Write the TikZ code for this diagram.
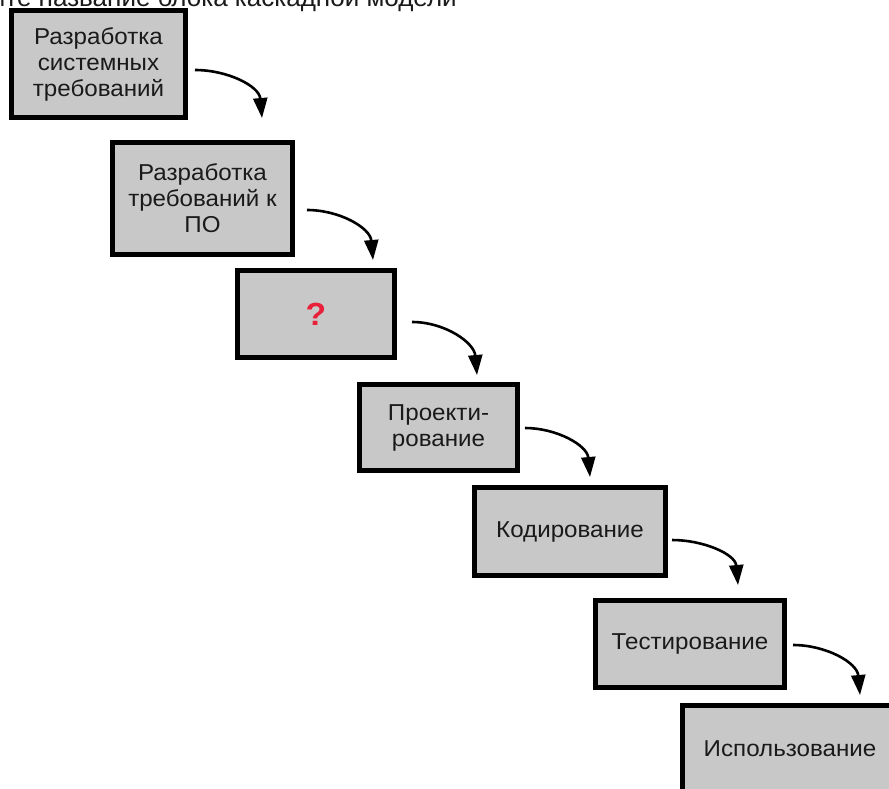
\documentclass[tikz,border=0pt]{standalone}
\usepackage{fontspec}
\setmainfont{Liberation Sans}
\newfontfamily\boxfont{Liberation Sans}[FakeStretch=1.05]
\usetikzlibrary{arrows.meta}
\definecolor{boxgray}{HTML}{C8C8C8}
\definecolor{txt}{HTML}{1A1A1A}
\definecolor{qred}{HTML}{E8203A}
\tikzset{
  stage/.style={draw=black, line width=5pt, fill=boxgray, align=center,
    inner sep=0pt, text=txt, font=\boxfont\fontsize{23}{26}\selectfont},
  flow/.style={line width=2.6pt, -{Triangle[length=20pt,width=14pt]}}
}
\begin{document}
\begin{tikzpicture}[x=1pt,y=-1pt]
\useasboundingbox (0,0) rectangle (889,788);
\fill[white] (0,0) rectangle (889,788);
% heading (cut off at the top)
\node[anchor=base east, inner sep=0pt, text=txt, font=\fontsize{26}{28}\selectfont] (head) at (457,6) {ите название блока каскадной модели};
% stages
\node[stage, minimum width=174pt, minimum height=107pt] (b1) at (98.5,64) {Разработка\\системных\\требований};
\node[stage, minimum width=180pt, minimum height=112pt] (b2) at (202.5,198.5) {Разработка\\требований к\\ПО};
\node[stage, minimum width=157pt, minimum height=87pt] (b3) at (316,314) {\textcolor{qred}{\bfseries\fontsize{32}{32}\selectfont ?}};
\node[stage, minimum width=158pt, minimum height=86pt] (b4) at (438.5,427.5) {Проекти-\\рование};
\node[stage, minimum width=191pt, minimum height=88pt] (b5) at (570,531.5) {Кодирование};
\node[stage, minimum width=189pt, minimum height=87pt] (b6) at (690,644) {Тестирование};
\node[stage, minimum width=215pt, minimum height=87pt] (b7) at (790,749) {Использование};
% arrow ends
\coordinate (s1) at (195,70);  \coordinate (t1) at (262,118);
\coordinate (s2) at (307,210); \coordinate (t2) at (373,260);
\coordinate (s3) at (412,322); \coordinate (t3) at (477,375);
\coordinate (s4) at (525,428); \coordinate (t4) at (590,477);
\coordinate (s5) at (672,540); \coordinate (t5) at (738,585);
\coordinate (s6) at (793,645); \coordinate (t6) at (860,695);
\foreach \i in {1,...,6}{
  \draw[flow] (s\i) to[out=0,in=95] (t\i);
}
\end{tikzpicture}
\end{document}
